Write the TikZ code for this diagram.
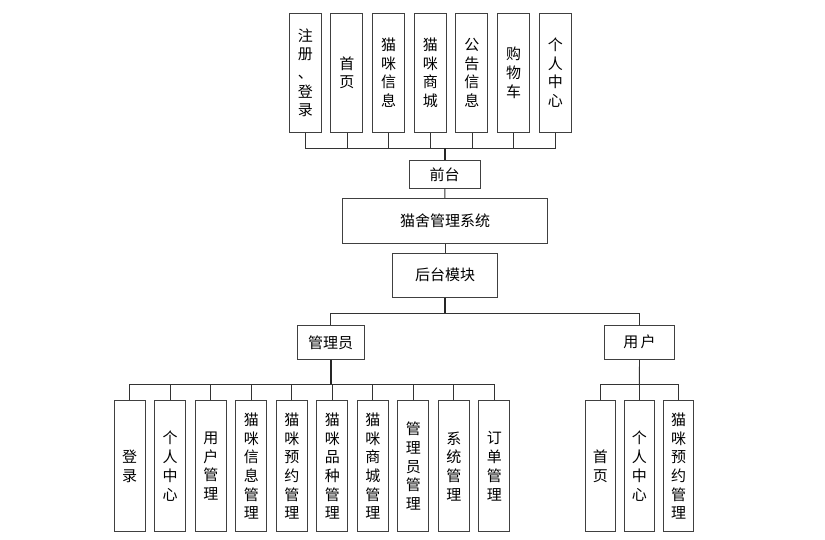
\documentclass[tikz,border=0pt]{standalone}
\usepackage{fontspec}
\setmainfont{Noto Sans CJK SC}
\begin{document}
\begin{tikzpicture}[x=1pt, y=-1pt,
    font=\fontsize{15}{18.7}\selectfont,
    box/.style={draw=black!75, line width=1pt, fill=white, inner sep=0pt, align=center},
    vbox/.style={box, minimum width=31, minimum height=131},
    hbox/.style={box, minimum height=34},
    link/.style={draw=black!80, line width=.9pt},
    trunk/.style={draw=black!85, line width=1.6pt}]
    \useasboundingbox (0,0) rectangle (825,540);

    % front end
    \foreach \t [count=\i] in {{注\\册\\、\\登\\录},{首\\页},{猫\\咪\\信\\息},{猫\\咪\\商\\城},{公\\告\\信\\息},{购\\物\\车},{个\\人\\中\\心}}
    \node[vbox, minimum width=32, minimum height=118.7] (t\i) at ({305.3+41.67*(\i-1)},72.7) {\t};
    \node[box, minimum width=70.7, minimum height=27.6] (qt) at (444.7,174.5) {前台};
    \coordinate (tbus) at (444.7,148.3);
    \foreach \i in {1,...,7}
    \draw[link] (t\i.south) |- (tbus);
    \draw[trunk] (tbus) -- (qt.north);

    % system and back end
    \node[box, minimum width=205.4, minimum height=44.7] (sys) at (445,220.7) {猫舍管理系统};
    \node[box, minimum width=105.4, minimum height=43.7] (ht) at (445,275.2) {后台模块};
    \draw[link] (qt) -- (sys);
    \draw[link] (sys) -- (ht);

    \node[hbox, minimum width=66.7] (gly) at (330.7,342.3) {管理员};
    \node[hbox, minimum width=70.4] (yh) at (639.5,342.3) {用\,户};
    \coordinate (hbus) at (445,313.3);
    \draw[trunk] (ht.south) -- (hbus);
    \draw[link] (gly.north) |- (hbus);
    \draw[link] (yh.north) |- (hbus);

    % admin
    \foreach \t [count=\i] in {{登\\录},{个\\人\\中\\心},{用\\户\\管\\理},{猫\\咪\\信\\息\\管\\理},{猫\\咪\\预\\约\\管\\理},{猫\\咪\\品\\种\\管\\理},{猫\\咪\\商\\城\\管\\理},{管\\理\\员\\管\\理},{系\\统\\管\\理},{订\\单\\管\\理}}
    \node[vbox] (a\i) at ({129.7+40.53*(\i-1)},466.2) {\t};
    \coordinate (abus) at (330.7,384);
    \foreach \i in {1,...,10}
    \draw[link] (a\i.north) |- (abus);
    \draw[trunk] (gly.south) -- (abus);

    % user
    \foreach \t [count=\i] in {{首\\页},{个\\人\\中\\心},{猫\\咪\\预\\约\\管\\理}}
    \node[vbox, minimum width=30] (u\i) at ({600.3+39.1*(\i-1)},466.2) {\t};
    \coordinate (ubus) at (639.3,384);
    \foreach \i in {1,...,3}
    \draw[link] (u\i.north) |- (ubus);
    \draw[link] (yh.south) -- (ubus);

\end{tikzpicture}
\end{document}
